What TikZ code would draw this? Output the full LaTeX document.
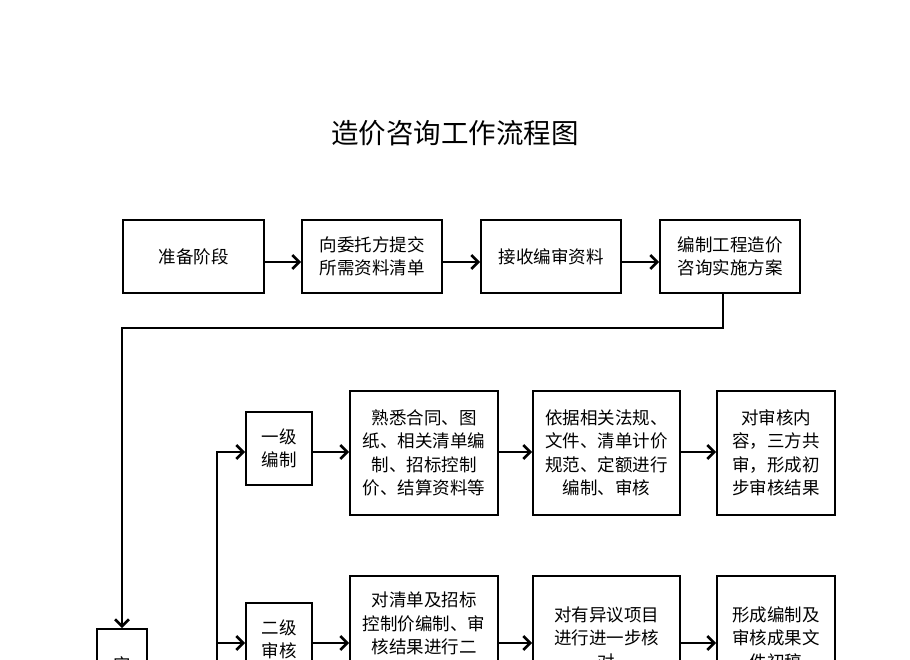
\documentclass[tikz,border=0pt]{standalone}
\usepackage{fontspec}
\setmainfont{Noto Sans CJK SC}
\usetikzlibrary{arrows.meta}
\begin{document}
\begin{tikzpicture}[x=1pt,y=-1pt,
  box/.style={draw, line width=1.8pt, inner sep=0pt, align=center,
    font=\fontsize{17.5}{23.5}\selectfont},
  wide/.style={box, minimum height=124pt},
  conn/.style={line width=2.6pt},
  arr/.style={conn, -{Straight Barb[length=7pt,width=14pt]}},
  titletext/.style={font=\fontsize{27.5}{30}\selectfont, inner sep=0pt}]
\useasboundingbox (0,0) rectangle (910,660);
\clip (0,0) rectangle (910,660);

\node[titletext] (t) at (455,133) {造价咨询工作流程图};

% top row
\node[box, minimum width=141pt, minimum height=73pt] (a1) at (193.5,256.5) {准备阶段};
\node[box, minimum width=140pt, minimum height=73pt] (a2) at (372,256.5) {向委托方提交\\所需资料清单};
\node[box, minimum width=140pt, minimum height=73pt] (a3) at (551,256.5) {接收编审资料};
\node[box, minimum width=140pt, minimum height=73pt] (a4) at (730,256.5) {编制工程造价\\咨询实施方案};
\coordinate (h) at (0,262);
\draw[arr] (a1.east |- h) -- (a2.west |- h);
\draw[arr] (a2.east |- h) -- (a3.west |- h);
\draw[arr] (a3.east |- h) -- (a4.west |- h);

% left stage box
\node[box, minimum width=50pt, minimum height=72pt] (s) at (122,665) {实};
\coordinate (c1) at (723,328);
\coordinate (c2) at (122,328);
\draw[arr] (c1 |- a4.south) -- (c1) -- (c2) -- (s.north);

% first level
\node[box, minimum width=66pt, minimum height=73pt] (l1) at (279,448.5) {一级\\编制};
\node[wide, minimum width=148pt] (r1a) at (424,453) {熟悉合同、图\\纸、相关清单编\\制、招标控制\\价、结算资料等};
\node[wide, minimum width=147pt] (r1b) at (606.5,453) {依据相关法规、\\文件、清单计价\\规范、定额进行\\编制、审核};
\node[wide, minimum width=118pt] (r1c) at (776,453) {对审核内\\容，三方共\\审，形成初\\步审核结果};

% second level
\node[box, minimum width=66pt, minimum height=73pt] (l2) at (279,639.5) {二级\\审核};
\node[wide, minimum width=148pt] (r2a) at (424,638) {对清单及招标\\控制价编制、审\\核结果进行二\\\strut};
\node[wide, minimum width=147pt] (r2b) at (606.5,638) {对有异议项目\\进行进一步核\\对};
\node[wide, minimum width=118pt] (r2c) at (776,638) {形成编制及\\审核成果文\\件初稿};

% spine
\coordinate (v1) at (217,452);
\coordinate (v3) at (217,643);
\coordinate (v4) at (217,700);
\draw[arr] (v4) -- (v1) -- (l1.west |- v1);
\draw[arr] (v3) -- (l2.west |- v3);

\draw[arr] (l1.east |- v1) -- (r1a.west |- v1);
\draw[arr] (r1a.east |- v1) -- (r1b.west |- v1);
\draw[arr] (r1b.east |- v1) -- (r1c.west |- v1);

\draw[arr] (l2.east |- v3) -- (r2a.west |- v3);
\draw[arr] (r2a.east |- v3) -- (r2b.west |- v3);
\draw[arr] (r2b.east |- v3) -- (r2c.west |- v3);
\end{tikzpicture}
\end{document}
